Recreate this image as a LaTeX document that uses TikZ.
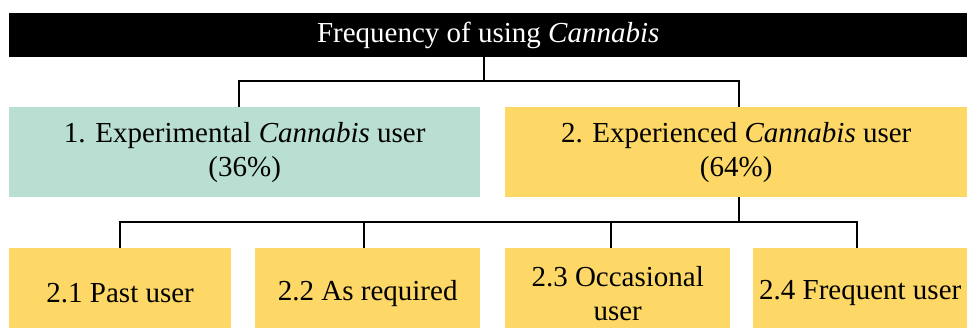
\documentclass[tikz,border=0pt]{standalone}
\usepackage{fontspec}
\setmainfont{Liberation Serif}
\newfontfamily\boxfont{Liberation Serif}
\definecolor{tealbox}{RGB}{185,222,210}
\definecolor{goldbox}{RGB}{253,216,102}
\begin{document}
\begin{tikzpicture}[x=1pt,y=-1pt,
  box/.style={draw=none, inner sep=0pt, align=center, anchor=north west,
    font=\boxfont\fontsize{29}{34}\selectfont},
  link/.style={line width=1.6pt, draw=black}]
\clip (0,0) rectangle (967,328);
\useasboundingbox (0,0) rectangle (967,328);

% header bar
\node[box, fill=black, text=white, minimum width=958pt, minimum height=44pt]
  (title) at (9,13) {Frequency of using \textit{Cannabis}};

% first level
\node[box, fill=tealbox, minimum width=471pt, minimum height=90pt]
  (exp) at (9,107) {1. Experimental \textit{Cannabis} user\\(36\%)};
\node[box, fill=goldbox, minimum width=462pt, minimum height=90pt]
  (expd) at (505,107) {2. Experienced \textit{Cannabis} user\\(64\%)};

% second level
\node[box, fill=goldbox, minimum width=222pt, minimum height=90pt]
  (past) at (9,248) {2.1 Past user};
\node[box, fill=goldbox, minimum width=225pt, minimum height=90pt]
  (req) at (255,248) {2.2 As required};
\node[box, fill=goldbox, minimum width=225pt, minimum height=90pt]
  (occ) at (505,248) {2.3 Occasional\\user};
\node[box, fill=goldbox, minimum width=214pt, minimum height=90pt]
  (freq) at (753,248) {2.4 Frequent user};

% connector junctions
\coordinate (hub) at (484,81);
\coordinate (xa) at (239,0);
\coordinate (xb) at (739,0);
\coordinate (hub2) at (739,222);
\coordinate (c1) at (120,0);
\coordinate (c2) at (364,0);
\coordinate (c3) at (611,0);
\coordinate (c4) at (857,0);

\draw[link] (title.south -| hub) -- (hub);
\draw[link] (exp.north -| xa) -- (xa |- hub) -- (xb |- hub) -- (expd.north -| xb);

\draw[link] (expd.south -| hub2) -- (hub2);
\draw[link] (past.north -| c1) -- (c1 |- hub2) -- (c4 |- hub2) -- (freq.north -| c4);
\draw[link] (req.north -| c2) -- (c2 |- hub2);
\draw[link] (occ.north -| c3) -- (c3 |- hub2);
\end{tikzpicture}
\end{document}
